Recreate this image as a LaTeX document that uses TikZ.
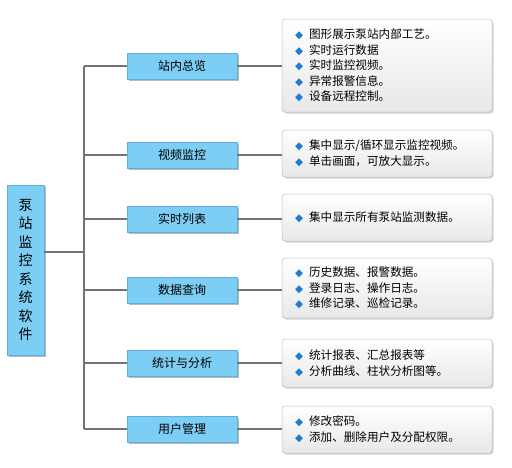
\documentclass[tikz,border=0pt]{standalone}
\usepackage{fontspec}
\setmainfont{Noto Sans CJK SC}
\newfontfamily\djfont{DejaVu Sans}
\usetikzlibrary{shadows}
\definecolor{boxblue}{RGB}{125,206,245}
\definecolor{boxedge}{RGB}{95,175,220}
\definecolor{linegray}{RGB}{115,115,115}
\definecolor{bullblue}{RGB}{30,125,210}
\newcommand{\itemmark}{{\color{bullblue}\djfont\fontsize{10.5}{10}\selectfont ◆}\hspace{6pt}}
\begin{document}
\begin{tikzpicture}[x=1pt,y=-1pt,
  catbox/.style={draw=boxedge, line width=0.5pt, fill=boxblue, minimum width=110pt,
    minimum height=26pt, inner sep=0pt, font=\fontsize{12}{14}\selectfont,
    drop shadow={shadow xshift=1.8pt, shadow yshift=-1.8pt, opacity=0.45, fill=black!60}},
  infobox/.style={draw=black!25, line width=0.5pt, rounded corners=3pt, top color=white,
    bottom color=black!9, text width=184pt, align=left, inner xsep=13pt, inner ysep=0pt,
    font=\fontsize{11.6}{15.6}\selectfont,
    drop shadow={shadow xshift=1.5pt, shadow yshift=-1.5pt, opacity=0.35, fill=black!50}},
  conn/.style={draw=linegray, line width=1.5pt}]
\useasboundingbox (0,0) rectangle (512,467);

\node[catbox, minimum width=37pt, minimum height=170pt, align=center,
  font=\fontsize{14}{18.5}\selectfont] (root) at (25.5,270) {泵\\站\\监\\控\\系\\统\\软\\件};

\node[catbox] (c1) at (182,66) {站内总览};
\node[catbox] (c2) at (182,155) {视频监控};
\node[catbox] (c3) at (182,219) {实时列表};
\node[catbox] (c4) at (182,290) {数据查询};
\node[catbox] (c5) at (182,363) {统计与分析};
\node[catbox] (c6) at (182,429) {用户管理};

\node[infobox, minimum height=93pt] (r1) at (387,65.5) {\itemmark 图形展示泵站内部工艺。\\\itemmark 实时运行数据\\\itemmark 实时监控视频。\\\itemmark 异常报警信息。\\\itemmark 设备远程控制。};
\node[infobox, minimum height=47pt] (r2) at (387,153.5) {\itemmark 集中显示/循环显示监控视频。\\\itemmark 单击画面，可放大显示。};
\node[infobox, minimum height=47pt] (r3) at (387,217.5) {\itemmark 集中显示所有泵站监测数据。};
\node[infobox, minimum height=60pt] (r4) at (387,288) {\itemmark 历史数据、报警数据。\\\itemmark 登录日志、操作日志。\\\itemmark 维修记录、巡检记录。};
\node[infobox, minimum height=48pt] (r5) at (387,363) {\itemmark 统计报表、汇总报表等\\\itemmark 分析曲线、柱状分析图等。};
\node[infobox, minimum height=47pt] (r6) at (387,429.5) {\itemmark 修改密码。\\\itemmark 添加、删除用户及分配权限。};

\coordinate (j) at (84,252);
\draw[conn] (root.east |- j) -- (j);
\draw[conn] (c1.west -| j) -- (c6.west -| j);
\foreach \n in {c1,c2,c3,c4,c5,c6} {
  \draw[conn] (\n.west -| j) -- (\n.west);
}
\foreach \n/\m in {c1/r1,c2/r2,c3/r3,c4/r4,c5/r5,c6/r6} {
  \draw[conn] (\n.east) -- (\m.west |- \n.east);
}
\end{tikzpicture}
\end{document}
